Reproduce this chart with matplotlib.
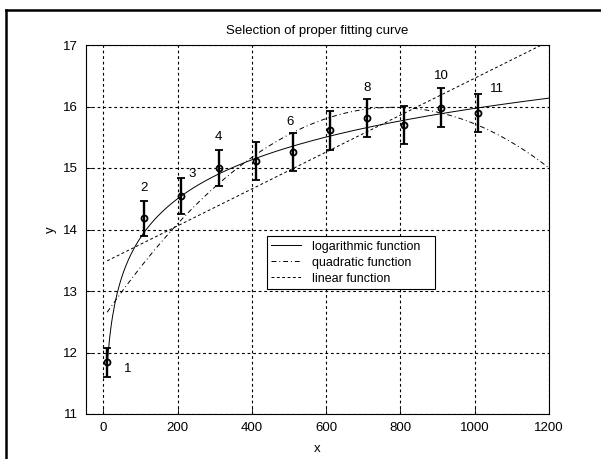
import numpy as np
import matplotlib
matplotlib.use("Agg")
import matplotlib.pyplot as plt
from matplotlib.lines import Line2D

plt.rcParams["font.family"] = ["Liberation Sans", "DejaVu Sans"]
plt.rcParams["font.size"] = 9.5

# measured points (x, y, half error bar)
x_pts = [10, 110, 210, 310, 410, 510, 610, 710, 810, 910, 1010]
y_pts = [11.84, 14.18, 14.54, 15.00, 15.12, 15.26, 15.61, 15.81, 15.70, 15.98, 15.89]
y_err = [0.24, 0.28, 0.29, 0.30, 0.31, 0.31, 0.31, 0.31, 0.31, 0.32, 0.31]

# point labels (text, x, y)
lab_txt = ["1", "2", "3", "4", "6", "8", "10", "11"]
lab_x = [65, 110, 240, 310, 503, 709, 909, 1059]
lab_y = [11.73, 14.67, 14.91, 15.51, 15.74, 16.30, 16.50, 16.28]

# fitted curve coefficients
log_a, log_b = 9.67, 0.912             # y = a + b*ln(x)
quad_c = [12.568, 0.008759, -5.61e-6]  # y = c0 + c1*x + c2*x^2
lin_c = [13.46, 0.0030]                # y = c0 + c1*x

xticks = [0, 200, 400, 600, 800, 1000, 1200]
yticks = [11, 12, 13, 14, 15, 16, 17]

W, H = 601, 459
fig = plt.figure(figsize=(W / 100, H / 100), dpi=100)
ax = fig.add_axes([86 / W, 1 - 414 / H, (549 - 86) / W, (414 - 45) / H])

xx = np.linspace(10, 1200, 400)
ax.plot(xx, log_a + log_b * np.log(xx), "k-", lw=0.7, label="logarithmic function   ")
ax.plot(xx, quad_c[0] + quad_c[1] * xx + quad_c[2] * xx ** 2, color="k", lw=0.7,
        linestyle=(0, (5, 3, 1, 3)), label="quadratic function")
ax.plot(xx, lin_c[0] + lin_c[1] * xx, color="k", lw=0.7,
        linestyle=(0, (3, 2.5)), label="linear function")

ax.errorbar(x_pts, y_pts, yerr=y_err, fmt="o", color="k", mfc="none", ms=4.3, mew=1.3,
            elinewidth=1.7, capsize=3, capthick=1.7, zorder=5)

for t, lx, ly in zip(lab_txt, lab_x, lab_y):
    ax.text(lx, ly, t, ha="center", va="center", fontsize=9.5)

ax.set_xlim(-47, 1200)
ax.set_ylim(11, 17)
ax.set_xticks(xticks)
ax.set_yticks(yticks)
ax.grid(True, color="k", linestyle=(0, (2.5, 2.5)), lw=0.8)
ax.tick_params(direction="in", length=4, width=0.6, pad=6, labelsize=9.5)
for s in ax.spines.values():
    s.set_linewidth(0.8)

ax.set_title("Selection of proper fitting curve", fontsize=9.5, pad=8)
ax.set_xlabel("x", fontsize=9.5, labelpad=6)
ax.set_ylabel("y", fontsize=9.5, labelpad=4)

leg = ax.legend(loc="lower left", bbox_to_anchor=(0.39, 0.339), fontsize=9,
                frameon=True, fancybox=False, handlelength=2.4, handletextpad=0.9,
                borderpad=0.35, labelspacing=0.32, framealpha=1, borderaxespad=0)
leg.get_frame().set_edgecolor("k")
leg.get_frame().set_linewidth(0.8)

# frame lines of the original picture (left and top edges)
fig.add_artist(Line2D([6 / W, 6 / W], [0, 1 - 10 / H], color="k", lw=1.8,
                      transform=fig.transFigure))
fig.add_artist(Line2D([6 / W, 1], [1 - 10 / H, 1 - 10 / H], color="k", lw=1.8,
                      transform=fig.transFigure))

fig.savefig("out.png", dpi=100)
